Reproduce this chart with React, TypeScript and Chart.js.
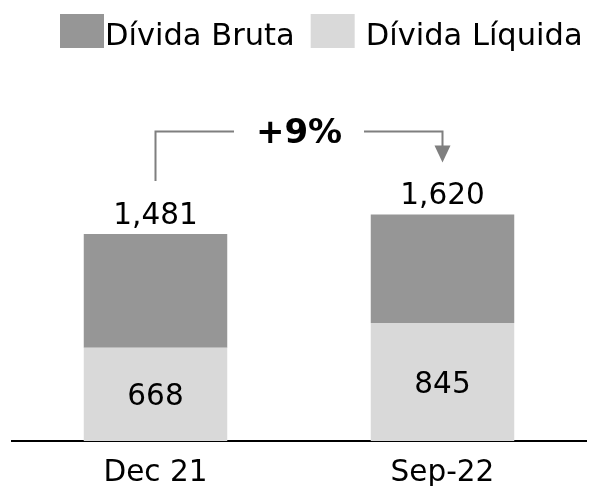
import React, { useEffect, useRef } from 'react';
import { Chart, registerables } from 'chart.js';

Chart.register(...registerables);

const categories = ['Dec 21', 'Sep-22'];
const dividaBruta = [1481, 1620];
const dividaLiquida = [668, 845];
const seriesLabels = ['Dívida Bruta', 'Dívida Líquida'];
const seriesColors = ['#969696', '#d9d9d9'];
const yMax = 2500;

const FONT = "'DejaVu Sans', Verdana, sans-serif";
const fmt = (v: number) => v.toLocaleString('en-US');

const legendPlugin = {
  id: 'customLegend',
  afterDraw(chart: any) {
    const ctx = chart.ctx;
    ctx.save();
    ctx.font = `30.5px ${FONT}`;
    ctx.textBaseline = 'alphabetic';
    ctx.textAlign = 'left';
    let x = 60;
    const gaps = [1, 11];
    seriesLabels.forEach((label, i) => {
      ctx.fillStyle = seriesColors[i];
      ctx.fillRect(x, 14, 44, 34);
      x += 44 + gaps[i];
      ctx.fillStyle = '#000';
      ctx.fillText(label, x, 45);
      x += ctx.measureText(label).width + 16;
    });
    ctx.restore();
  },
};

const labelsPlugin = {
  id: 'barLabels',
  afterDatasetsDraw(chart: any) {
    const ctx = chart.ctx;
    const bottomMeta = chart.getDatasetMeta(0);
    const topMeta = chart.getDatasetMeta(1);
    ctx.save();
    ctx.fillStyle = '#000';
    ctx.textAlign = 'center';
    ctx.textBaseline = 'alphabetic';
    ctx.font = `29.5px ${FONT}`;
    categories.forEach((_, i) => {
      const topEl = topMeta.data[i];
      const botEl = bottomMeta.data[i];
      ctx.fillText(fmt(dividaBruta[i]), topEl.x, topEl.y - 10.5);
      const mid = (botEl.y + botEl.base) / 2;
      ctx.fillText(fmt(dividaLiquida[i]), botEl.x, mid + 11);
    });

    // growth bracket
    const a = topMeta.data[0];
    const b = topMeta.data[1];
    const pct = Math.round((dividaBruta[1] / dividaBruta[0] - 1) * 100);
    const text = `${pct >= 0 ? '+' : ''}${pct}%`;
    const lineY = b.y - 83;
    const startY = a.y - 53;
    const textX = (a.x + b.x) / 2;
    ctx.strokeStyle = '#7f7f7f';
    ctx.fillStyle = '#7f7f7f';
    ctx.lineWidth = 2;
    ctx.beginPath();
    ctx.moveTo(a.x, startY);
    ctx.lineTo(a.x, lineY);
    ctx.lineTo(textX - 65, lineY);
    ctx.moveTo(textX + 65, lineY);
    ctx.lineTo(b.x, lineY);
    ctx.lineTo(b.x, b.y - 68);
    ctx.stroke();
    ctx.beginPath();
    ctx.moveTo(b.x - 8, b.y - 69);
    ctx.lineTo(b.x + 8, b.y - 69);
    ctx.lineTo(b.x, b.y - 52);
    ctx.closePath();
    ctx.fill();
    ctx.fillStyle = '#000';
    ctx.font = `bold 34px ${FONT}`;
    ctx.fillText(text, textX, lineY + 11);
    ctx.restore();
  },
};

export default function App() {
  const canvasRef = useRef<HTMLCanvasElement | null>(null);

  useEffect(() => {
    if (!canvasRef.current) return;
    const chart = new Chart(canvasRef.current, {
      type: 'bar',
      data: {
        labels: categories,
        datasets: [
          {
            label: seriesLabels[1],
            data: dividaLiquida,
            backgroundColor: seriesColors[1],
            barPercentage: 0.5,
            categoryPercentage: 1,
          },
          {
            label: seriesLabels[0],
            data: dividaBruta.map((v, i) => v - dividaLiquida[i]),
            backgroundColor: seriesColors[0],
            barPercentage: 0.5,
            categoryPercentage: 1,
          },
        ],
      },
      options: {
        responsive: false,
        animation: false,
        devicePixelRatio: 1,
        layout: { padding: { left: 12, right: 17, top: 91.6, bottom: 0 } },
        plugins: {
          legend: { display: false },
          tooltip: { enabled: false },
        },
        scales: {
          x: {
            stacked: true,
            grid: { display: false, drawTicks: false },
            border: { display: true, color: '#000', width: 2 },
            ticks: {
              color: '#000',
              padding: 15,
              font: { family: FONT, size: 29.5, lineHeight: 1.2 },
            },
            afterFit: (scale: any) => {
              scale.height = 45;
            },
          },
          y: {
            stacked: true,
            display: false,
            min: 0,
            max: yMax,
          },
        },
      },
      plugins: [legendPlugin, labelsPlugin],
    });
    return () => chart.destroy();
  }, []);

  return (
    <div style={{ position: 'fixed', left: 0, top: 0, width: 603, height: 486, background: '#fff' }}>
      <canvas ref={canvasRef} width={603} height={486} style={{ display: 'block' }} />
    </div>
  );
}
